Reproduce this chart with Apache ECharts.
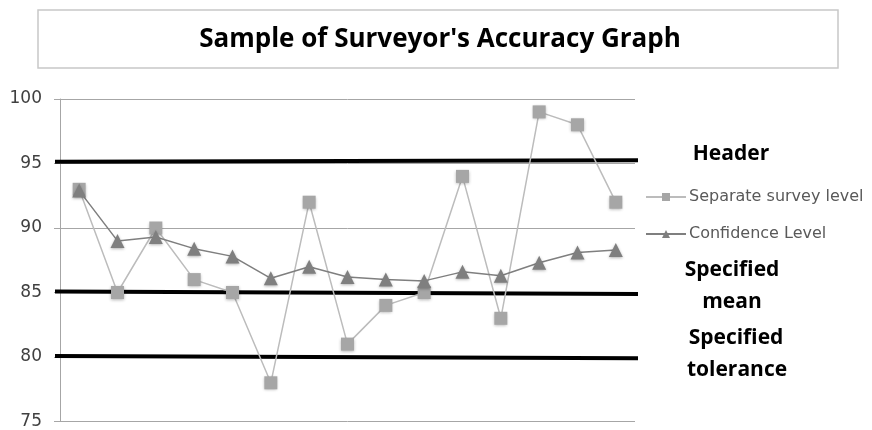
<!DOCTYPE html>
<html>
<head>
<meta charset="utf-8">
<script src="https://cdn.jsdelivr.net/npm/echarts@6/dist/echarts.min.js"></script>
<style>
html,body{margin:0;padding:0;background:#fff;}
#chart{width:872px;height:430px;}
</style>
</head>
<body>
<div id="chart"></div>
<script>
const titleText = "Sample of Surveyor's Accuracy Graph";
const categories = ['1','2','3','4','5','6','7','8','9','10','11','12','13','14','15'];
const separateSurvey = [93, 85, 90, 86, 85, 78, 92, 81, 84, 85, 94, 83, 99, 98, 92];
const confidence = [92.9, 89, 89.3, 88.4, 87.8, 86.1, 87, 86.2, 86, 85.9, 86.6, 86.3, 87.3, 88.1, 88.3];
const yMin = 75, yMax = 100, yStep = 5;
const refNames = ['Header', 'Specified mean', 'Specified tolerance'];
const refLabels = ['Header', 'Specified\nmean', 'Specified\ntolerance'];
const refStart = [95.15, 85.1, 80.1];
const refEnd = [95.25, 84.9, 79.93];

const chart = echarts.init(document.getElementById('chart'), null, {renderer: 'canvas'});

const refSeries = refNames.map((n, i) => ({
  name: n,
  type: 'line',
  xAxisIndex: 1,
  yAxisIndex: 1,
  data: [[0, refStart[i]], [1, refEnd[i]]],
  symbol: 'none',
  lineStyle: {color: '#000', width: 4},
  z: 1,
  silent: true
}));

const refLabelPos = [[731, 154], [732, 270], [732, 302], [736, 338], [737, 370]];
const labelLines = [];
refLabels.forEach(l => l.split('\n').forEach(s => labelLines.push(s)));

const option = {
  backgroundColor: '#fff',
  animation: false,
  graphic: [
    {type: 'rect', shape: {x: 38, y: 10, width: 800, height: 58},
     style: {fill: '#fff', stroke: '#c8c8c8', lineWidth: 1.5}},
    {type: 'text', x: 440, y: 40,
     style: {text: titleText, fill: '#000', font: 'bold 26px "Open Sans"', align: 'center', verticalAlign: 'middle'}}
  ].concat(labelLines.map((s, i) => ({
    type: 'text', x: refLabelPos[i][0], y: refLabelPos[i][1],
    style: {text: s, fill: '#000', font: 'bold 21px "Open Sans"', align: 'center', verticalAlign: 'middle'}
  }))),
  legend: {
    data: ['Separate survey level', 'Confidence Level'],
    orient: 'vertical',
    left: 640,
    top: 184,
    itemWidth: 40,
    itemHeight: 10,
    itemGap: 21,
    textStyle: {color: '#595959', fontSize: 16, fontFamily: 'DejaVu Sans', padding: [0, 0, 0, -2]}
  },
  grid: [
    {left: 60, right: 237, top: 99, bottom: 8},
    {left: 55, right: 234, top: 99, bottom: 8}
  ],
  xAxis: [
    {type: 'category', data: categories, gridIndex: 0, boundaryGap: true,
     axisLine: {show: false}, axisTick: {show: false}, axisLabel: {show: false}, splitLine: {show: false}},
    {type: 'value', gridIndex: 1, min: 0, max: 1, show: false}
  ],
  yAxis: [
    {type: 'value', gridIndex: 0, min: yMin, max: yMax, interval: yStep,
     axisLine: {show: true, lineStyle: {color: '#a6a6a6', width: 1}},
     axisTick: {show: true, length: 6, lineStyle: {color: '#a6a6a6'}},
     axisLabel: {color: '#404040', fontSize: 17, fontFamily: 'DejaVu Sans', margin: 18},
     splitLine: {show: true, lineStyle: {color: '#a6a6a6', width: 1}}},
    {type: 'value', gridIndex: 1, min: yMin, max: yMax, show: false}
  ],
  series: refSeries.concat([
    {
      name: 'Separate survey level',
      type: 'line',
      data: separateSurvey,
      symbol: 'rect',
      symbolSize: 13,
      itemStyle: {color: '#a6a6a6', shadowBlur: 3, shadowColor: 'rgba(0,0,0,0.3)', shadowOffsetY: 1},
      lineStyle: {color: '#bcbcbc', width: 1.5},
      z: 3
    },
    {
      name: 'Confidence Level',
      type: 'line',
      data: confidence,
      symbol: 'triangle',
      symbolSize: 14,
      itemStyle: {color: '#7f7f7f', shadowBlur: 3, shadowColor: 'rgba(0,0,0,0.3)', shadowOffsetY: 1},
      lineStyle: {color: '#7f7f7f', width: 1.5},
      z: 4
    }
  ])
};
chart.setOption(option);
</script>
</body>
</html>
